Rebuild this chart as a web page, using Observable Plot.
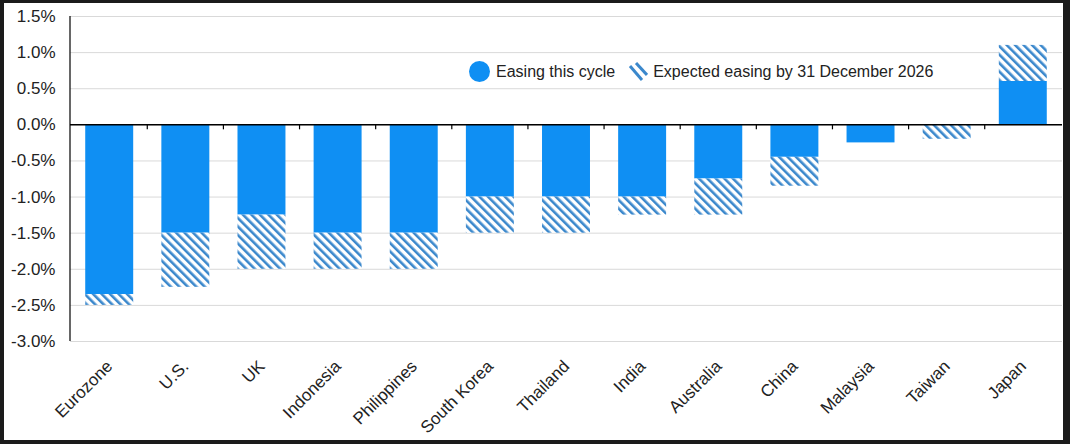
<!DOCTYPE html>
<html><head><meta charset="utf-8">
<script src="https://cdn.jsdelivr.net/npm/d3@7"></script>
<script src="https://cdn.jsdelivr.net/npm/@observablehq/plot@0.6"></script>
<style>
html,body{margin:0;padding:0;background:#1b1b1b;width:1070px;height:444px;overflow:hidden;}
#frame{position:absolute;left:4px;top:3px;width:1059px;height:437px;background:#fff;overflow:hidden;}
#chart{position:absolute;left:0;top:0;}
#legend{position:absolute;left:465px;top:58px;font:16px "Liberation Sans",Arial,sans-serif;color:#222;display:flex;align-items:center;white-space:nowrap;}
#legend .dot{width:21px;height:21px;border-radius:50%;background:#0f8ff3;display:inline-block;margin-right:6px;}
#legend .hatch{margin-left:13px;margin-right:5px;}
</style></head>
<body>
<div id="frame"><div id="chart"></div>
<div id="legend"><span class="dot"></span><span>Easing this cycle</span>
<svg class="hatch" width="20" height="20" viewBox="0 0 20 20"><line x1="2" y1="4" x2="14" y2="18" stroke="#3b88cc" stroke-width="3"/><line x1="8" y1="1" x2="19" y2="13" stroke="#3b88cc" stroke-width="3"/></svg><span>Expected easing by 31 December 2026</span></div>
</div>
<script>
const categories = ["Eurozone","U.S.","UK","Indonesia","Philippines","South Korea","Thailand","India","Australia","China","Malaysia","Taiwan","Japan"];
const easingThisCycle = [-2.35,-1.5,-1.25,-1.5,-1.5,-1.0,-1.0,-1.0,-0.75,-0.45,-0.25,0,0.6];
const expectedEasing = [-2.5,-2.25,-2.0,-2.0,-2.0,-1.5,-1.5,-1.25,-1.25,-0.85,-0.25,-0.2,1.1];
const yTicks = [1.5,1.0,0.5,0,-0.5,-1.0,-1.5,-2.0,-2.5,-3.0];

const rows = categories.map((c,i)=>({country:c, cycle:easingThisCycle[i], expected:expectedEasing[i]}));

function frameLines(index, scales, values, dims) {
  const x = scales.x, y = scales.y;
  const bw = typeof x.bandwidth === "function" ? x.bandwidth() : x.bandwidth;
  const g = d3.create("svg:g");
  const y0 = y(0);
  for (let i = 1; i < categories.length; i++) {
    const xb = (x(categories[i-1]) + bw + x(categories[i])) / 2;
    g.append("line").attr("x1", xb).attr("x2", xb).attr("y1", y0).attr("y2", y0 + 5)
      .attr("stroke", "#000").attr("stroke-width", 1.2);
  }
  g.append("line").attr("x1", dims.marginLeft).attr("x2", dims.marginLeft)
    .attr("y1", y(yTicks[0])).attr("y2", y(yTicks[yTicks.length-1]))
    .attr("stroke", "#000").attr("stroke-width", 1.2);
  return g.node();
}

const chart = Plot.plot({
  width: 1059, height: 437,
  marginLeft: 66, marginRight: 1, marginTop: 13, marginBottom: 99,
  style: {fontFamily: '"Liberation Sans", Arial, sans-serif', background: "transparent", overflow: "visible"},
  x: {domain: categories, paddingInner: 0.37, paddingOuter: 0.2, round: false, label: null},
  y: {domain: [-3, 1.5], label: null},
  marks: [
    Plot.gridY(yTicks, {stroke: "#d9d9d9", strokeOpacity: 1}),
    Plot.barY(rows, {x: "country", y1: 0, y2: "cycle", fill: "#0f8ff3"}),
    Plot.barY(rows, {x: "country", y1: "cycle", y2: "expected", fill: "url(#hatch)"}),
    Plot.ruleY([0], {stroke: "#000", strokeWidth: 1.5}),
    Plot.axisY(yTicks, {tickSize: 0, tickPadding: 15, tickFormat: d => d.toFixed(1) + "%", fontSize: 17, fill: "#222", label: null}),
    Plot.axisX({tickSize: 0, tickPadding: 22, tickRotate: -45, fontSize: 17, fill: "#222", label: null}),
    frameLines
  ]
});

const svg = d3.select(chart);
const defs = svg.insert("defs", ":first-child");
const pat = defs.append("pattern").attr("id", "hatch").attr("patternUnits", "userSpaceOnUse")
  .attr("width", 6).attr("height", 6).attr("patternTransform", "rotate(-45)");
pat.append("rect").attr("width", 6).attr("height", 6).attr("fill", "#fff");
pat.append("rect").attr("x", 0).attr("width", 2.6).attr("height", 6).attr("fill", "#3b88cc");

document.getElementById("chart").appendChild(chart);
</script>
</body></html>
